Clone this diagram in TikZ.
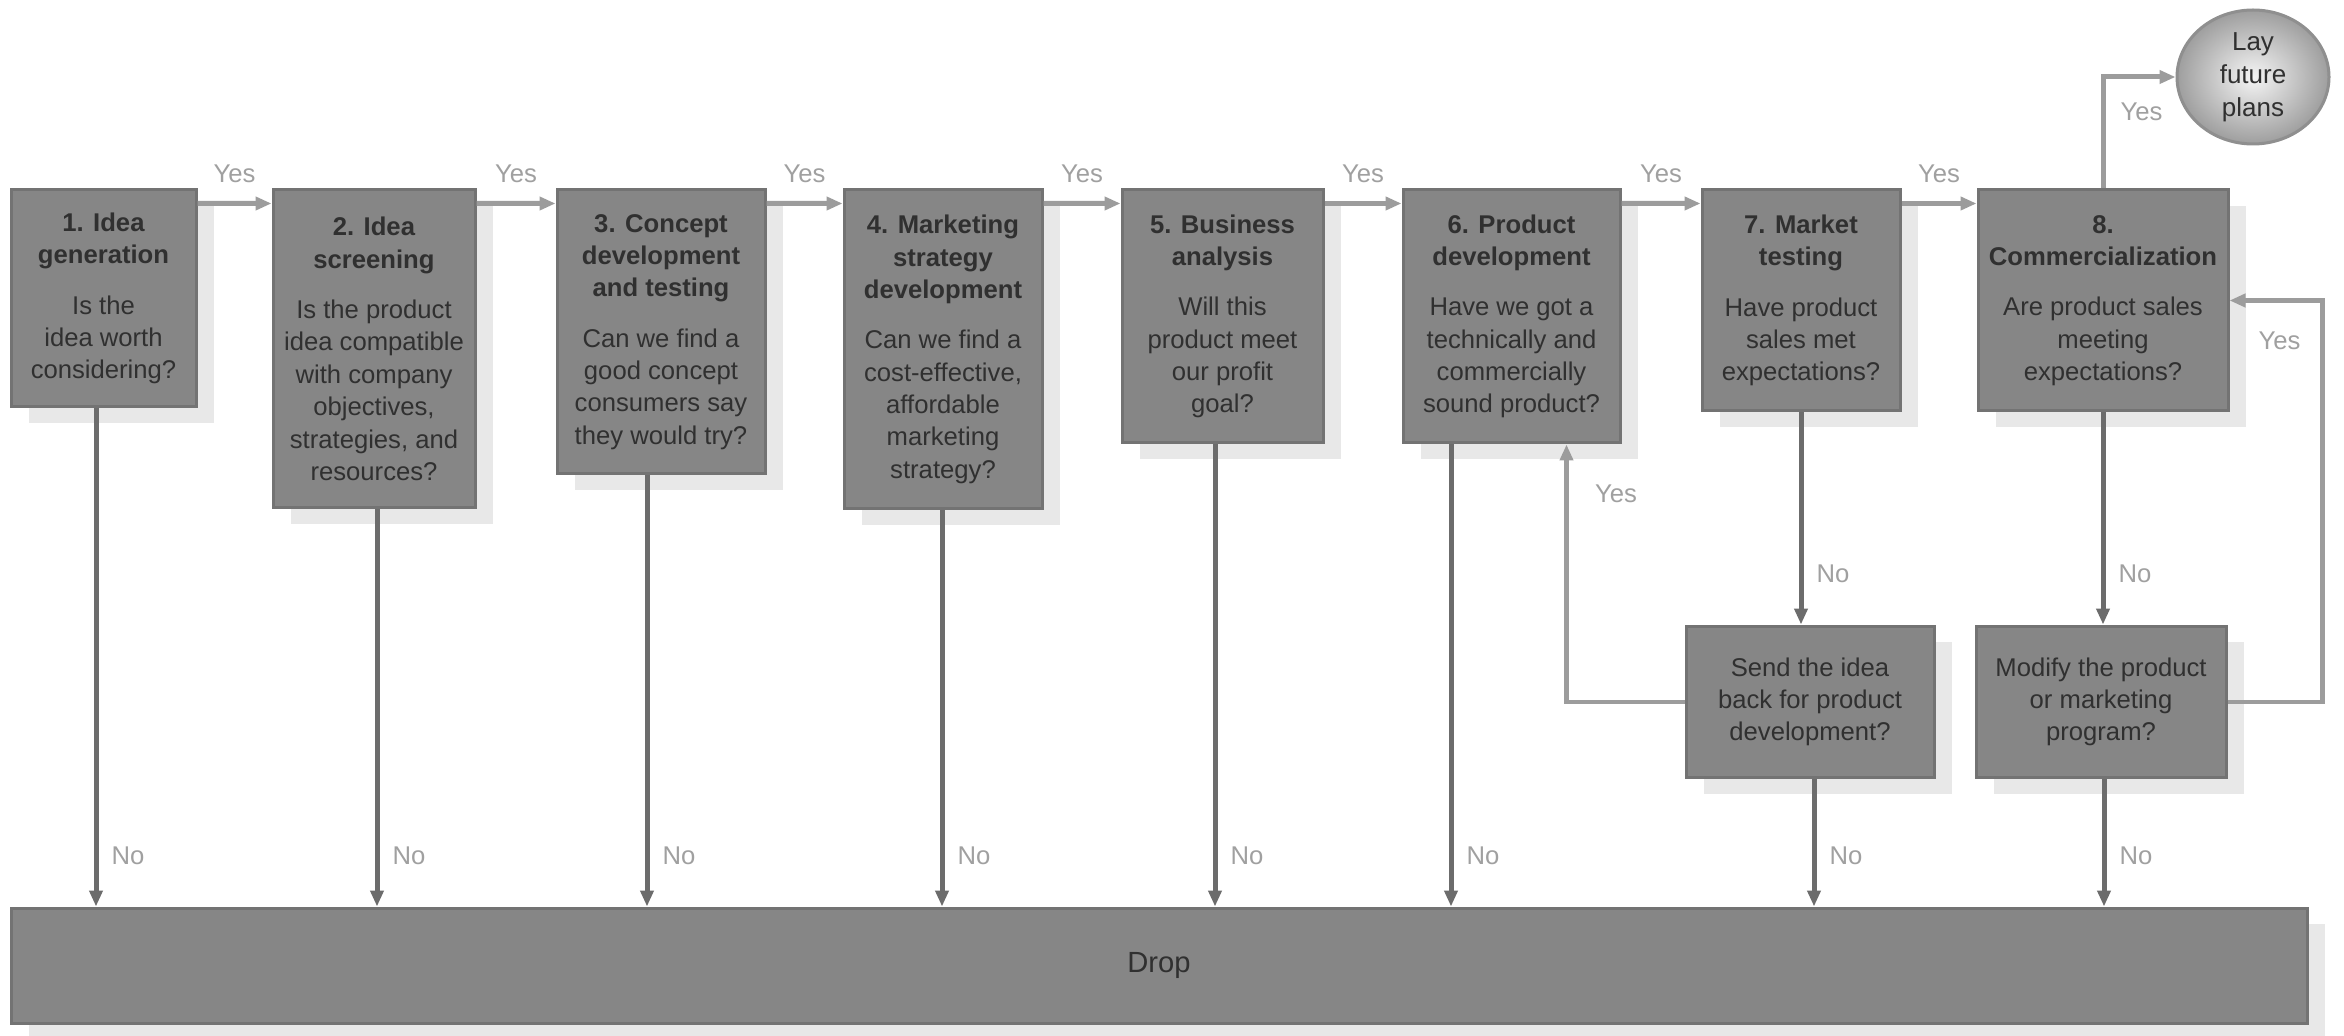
\documentclass[tikz,border=0pt]{standalone}
\usepackage{fontspec}
\setmainfont{Liberation Sans}
\usetikzlibrary{arrows.meta,shapes.geometric,shadows,calc}

\definecolor{boxfill}{HTML}{868686}
\definecolor{boxedge}{HTML}{737373}
\definecolor{shadowc}{HTML}{E8E8E8}
\definecolor{textc}{HTML}{303030}
\definecolor{lblc}{HTML}{A0A0A0}
\definecolor{noline}{HTML}{6C6C6C}
\definecolor{yesline}{HTML}{9C9C9C}

\begin{document}
\begin{tikzpicture}[x=0.1mm,y=-0.1mm,
  base/.style={font=\fontsize{7.3}{9.2}\selectfont},
  stage/.style={base, draw=boxedge, line width=0.3mm, fill=boxfill, text=textc,
    align=center, inner sep=0pt,
    general shadow={fill=shadowc, shadow xshift=1.8mm, shadow yshift=-1.6mm}},
  lbl/.style={base, text=lblc, inner sep=0pt},
  tip/.style={-{Triangle[length=1.6mm,width=1.3mm]}},
  noarrow/.style={draw=noline, line width=0.5mm, tip},
  yesarrow/.style={draw=yesline, line width=0.5mm, tip},
]
\path[use as bounding box, fill=white] (0,0) rectangle (2344,1036);

% stages of the process
\node[stage, minimum width=18.5mm, minimum height=21.7mm] (s1) at (103.5,298.5)
  {\textbf{1. Idea}\\\textbf{generation}\\[1.8mm]Is the\\idea worth\\considering?};
\node[stage, minimum width=20.2mm, minimum height=31.8mm] (s2) at (374,349)
  {\textbf{2. Idea}\\\textbf{screening}\\[1.8mm]Is the product\\idea compatible\\with company\\objectives,\\strategies, and\\resources?};
\node[stage, minimum width=20.8mm, minimum height=28.4mm] (s3) at (661,332)
  {\textbf{3. Concept}\\\textbf{development}\\\textbf{and testing}\\[1.8mm]Can we find a\\good concept\\consumers say\\they would try?};
\node[stage, minimum width=19.8mm, minimum height=31.9mm] (s4) at (943,349.5)
  {\textbf{4. Marketing}\\\textbf{strategy}\\\textbf{development}\\[1.8mm]Can we find a\\cost-effective,\\affordable\\marketing\\strategy?};
\node[stage, minimum width=20.1mm, minimum height=25.3mm] (s5) at (1222.5,316.5)
  {\textbf{5. Business}\\\textbf{analysis}\\[1.8mm]Will this\\product meet\\our profit\\goal?};
\node[stage, minimum width=21.7mm, minimum height=25.3mm] (s6) at (1511.5,316.5)
  {\textbf{6. Product}\\\textbf{development}\\[1.8mm]Have we got a\\technically and\\commercially\\sound product?};
\node[stage, minimum width=19.8mm, minimum height=22.1mm] (s7) at (1801,300.5)
  {\textbf{7. Market}\\\textbf{testing}\\[1.8mm]Have product\\sales met\\expectations?};
\node[stage, minimum width=25mm, minimum height=22.1mm] (s8) at (2103,300.5)
  {\textbf{8.}\\\textbf{Commercialization}\\[1.8mm]Are product sales\\meeting\\expectations?};

% second-chance decisions
\node[stage, minimum width=24.8mm, minimum height=15.2mm] (send) at (1810,702)
  {Send the idea\\back for product\\development?};
\node[stage, minimum width=25mm, minimum height=15.2mm] (mod) at (2101,702)
  {Modify the product\\or marketing\\program?};

% outcomes
\node[stage, minimum width=229.6mm, minimum height=11.5mm,
  font=\fontsize{8.3}{10}\selectfont] (drop) at (1159,965.5) {Drop};
\node[ellipse, draw=boxedge!80, line width=0.3mm, shading=radial,
  inner color=black!4, outer color=black!38, text=textc, align=center,
  inner sep=0pt, minimum width=15.2mm, minimum height=13.4mm,
  font=\fontsize{7.4}{9.4}\selectfont] (lay) at (2253,77) {Lay\\future\\plans};

% "Yes" path along the top
\foreach \a/\b in {s1/s2,s2/s3,s3/s4,s4/s5,s5/s6,s6/s7,s7/s8}
  \draw[yesarrow] ([yshift=-1.5mm]\a.north east) -- ([yshift=-1.5mm]\b.north west)
    node[lbl, midway, yshift=3mm] {Yes};

% "No" drops
\foreach \n/\dx in {s1/-0.75,s2/0.3,s3/-1.4,s4/-0.1,s5/-0.75,s6/-6.05,send/0.4,mod/0.3} {
  \coordinate (d-\n) at ([xshift=\dx mm]\n.south);
  \draw[noarrow] (d-\n) -- (d-\n |- drop.north)
    node[lbl, pos=1, anchor=west, xshift=1.3mm, yshift=5.1mm] {No};
}
\draw[noarrow] (s7.south) -- (s7.south |- send.north)
  node[lbl, pos=1, anchor=west, xshift=1.3mm, yshift=5.1mm] {No};
\draw[noarrow] (s8.south) -- (s8.south |- mod.north)
  node[lbl, pos=1, anchor=west, xshift=1.3mm, yshift=5.1mm] {No};

% feedback loops
\coordinate (fbl) at ([xshift=5.5mm]s6.south);
\draw[yesarrow] (send.west) -| (fbl)
  node[lbl, pos=0.905, anchor=west, xshift=2.6mm] {Yes};
\coordinate (fbr) at (2322,702);
\draw[yesarrow] (mod.east) -- (fbr) |- (s8.east)
  node[lbl, pos=0.45, anchor=east, xshift=-1.9mm] {Yes};
\draw[yesarrow] (s8.north) |- (lay.west)
  node[lbl, pos=0.345, anchor=west, xshift=1.5mm] {Yes};
\end{tikzpicture}
\end{document}
